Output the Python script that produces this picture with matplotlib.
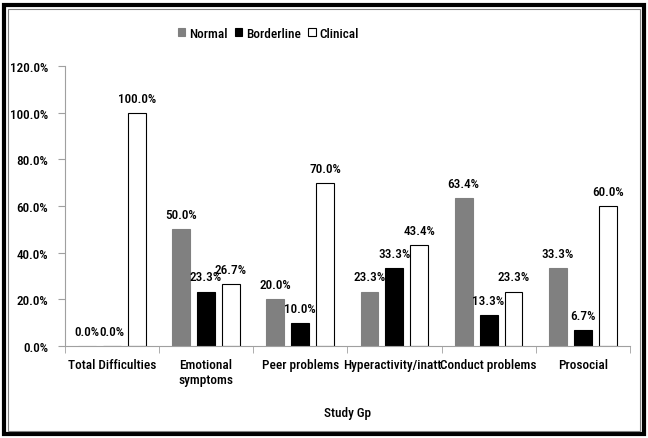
import matplotlib.pyplot as plt
import numpy as np
from matplotlib.patches import Rectangle
from matplotlib import font_manager

categories = ["Total Difficulties", "Emotional\nsymptoms", "Peer problems",
              "Hyperactivity/inatt.", "Conduct problems", "Prosocial"]
normal = [0.0, 50.0, 20.0, 23.3, 63.4, 33.3]
borderline = [0.0, 23.3, 10.0, 33.3, 13.3, 6.7]
clinical = [100.0, 26.7, 70.0, 43.4, 23.3, 60.0]

# narrow font if there is one, else plain Liberation Sans at a smaller size
narrow = None
for name in ["Liberation Sans Narrow", "Arial Narrow", "Roboto Condensed"]:
    try:
        font_manager.findfont(name, fallback_to_default=False)
        narrow = name
        break
    except ValueError:
        pass
if narrow:
    plt.rcParams['font.family'] = [narrow, 'DejaVu Sans']
    fs = 9.5
else:
    plt.rcParams['font.family'] = ['Liberation Sans', 'DejaVu Sans']
    fs = 8
fw = "medium"

fig = plt.figure(figsize=(6.48, 4.39), dpi=100)
ax = fig.add_axes([0.100, 0.2096, 0.872, 0.6374])

x = np.arange(len(categories))
w = 0.19
step = 0.265
series = [(normal, "Normal", "#808080", "#808080"),
          (borderline, "Borderline", "black", "black"),
          (clinical, "Clinical", "white", "black")]
for i, (vals, name, fc, ec) in enumerate(series):
    pos = x + (i - 1) * step
    ax.bar(pos, vals, w, color=fc, edgecolor=ec, linewidth=0.8, label=name)
    for p, v in zip(pos, vals):
        ax.text(p, v + 3.5, f"{v:.1f}%", ha="center", va="bottom",
                fontsize=fs, fontweight=fw)

ax.set_xlim(-0.5, len(categories) - 0.5)
ax.set_ylim(0, 120)
ax.set_yticks(range(0, 121, 20))
ax.set_yticklabels([f"{t:.1f}%" for t in range(0, 121, 20)], fontsize=fs, fontweight=fw)
ax.set_xticks(x)
ax.set_xticklabels(categories, fontsize=fs, fontweight=fw)
ax.tick_params(axis="x", length=0, pad=9)
ax.set_xticks(np.arange(-0.5, len(categories), 1), minor=True)
ax.tick_params(axis="x", which="minor", length=5, color="#a0a0a0", direction="out")
ax.tick_params(axis="y", length=5, color="#a0a0a0", direction="out", pad=7)
for s in ["top", "right"]:
    ax.spines[s].set_visible(False)
for s in ["left", "bottom"]:
    ax.spines[s].set_color("#a0a0a0")
ax.set_xlabel("Study Gp", fontsize=fs, fontweight=fw, labelpad=14)

leg = fig.legend(loc="center", bbox_to_anchor=(0.414, 0.922), ncol=3, frameon=False,
                 handlelength=0.55, handleheight=0.55, handletextpad=0.25, columnspacing=0.6,
                 prop={"size": fs, "weight": fw})

fig.patches.append(Rectangle((0.006, 0.008), 0.988, 0.978, transform=fig.transFigure,
                             fill=False, edgecolor="black", linewidth=3))
fig.patches.append(Rectangle((0.013, 0.016), 0.974, 0.962, transform=fig.transFigure,
                             fill=False, edgecolor="#808080", linewidth=0.8))

fig.savefig("out.png", dpi=100)
